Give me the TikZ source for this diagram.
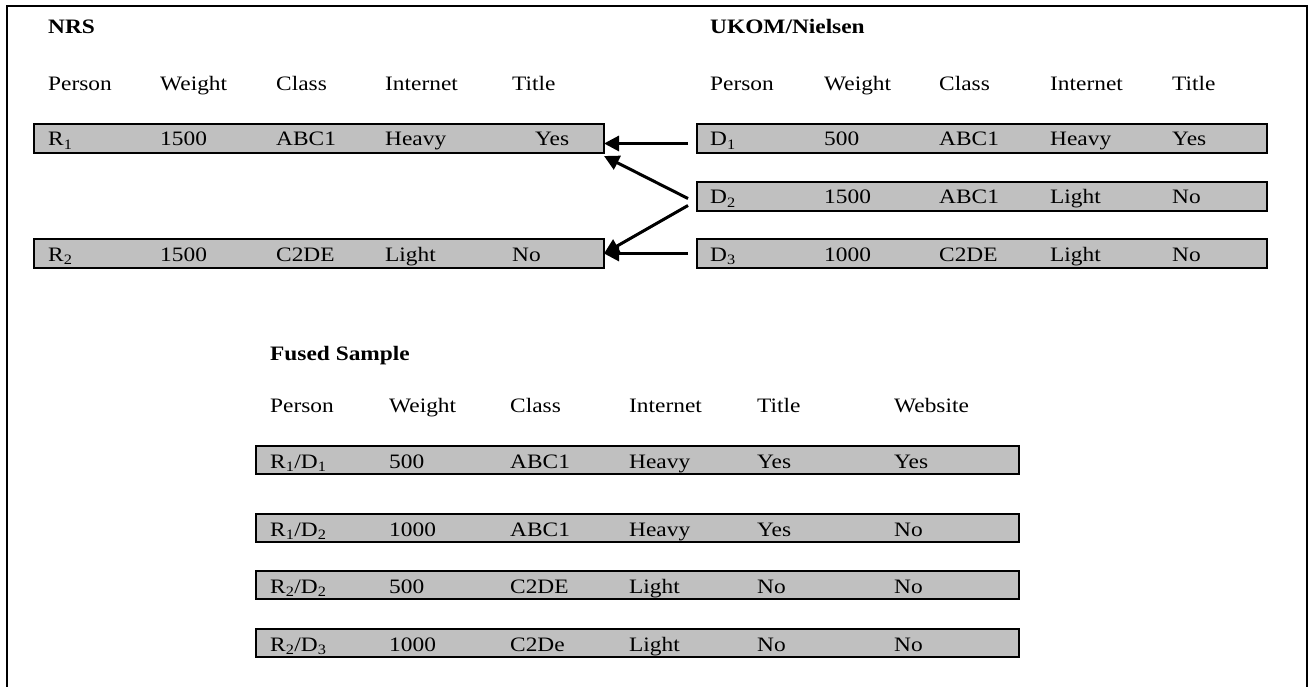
\documentclass[tikz,border=0pt]{standalone}
\usepackage{fontspec}
\setmainfont[FakeStretch=1.14]{Liberation Serif}
\usetikzlibrary{arrows.meta}
\definecolor{cellgray}{HTML}{C0C0C0}
\tikzset{
  x=1pt, y=-1pt,
  frameline/.style={line width=2pt, line cap=rect},
  rowbox/.style={draw=black, line width=2pt, fill=cellgray, anchor=north west,
    inner sep=0pt, minimum height=29pt},
  wide/.style={rowbox, minimum width=570pt},
  fusedbox/.style={rowbox, minimum width=763pt, minimum height=28pt},
  cell/.style={anchor=base west, inner sep=0pt, font=\fontsize{20.5}{25}\selectfont},
  heading/.style={cell, font=\fontsize{20.5}{25}\selectfont\bfseries},
  flow/.style={line width=3pt, -{Triangle[length=15pt,width=15pt]}},
}
\newcommand{\sub}[2]{#1\textsubscript{#2}}
\begin{document}
\begin{tikzpicture}
\useasboundingbox (0,0) rectangle (1309,687);

% open frame round the figure
\draw[frameline] (7,687) -- (7,6.5) -- (1307,6.5) -- (1307,687);

% ---------- NRS sample ----------
\node[heading] (nrs) at (48,34) {NRS};
\foreach \x/\t [count=\i] in {48/Person,160/Weight,276/Class,385/Internet,512/Title}
  \node[cell] (nrshead\i) at (\x,90.5) {\t};

\node[wide] (r1) at (33,123) {};
\foreach \x/\t [count=\i] in {48/{\sub{R}{1}},160/1500,276/ABC1,385/Heavy,535/Yes}
  \node[cell] (r1c\i) at (\x,146) {\t};

\node[wide] (r2) at (33,238) {};
\foreach \x/\t [count=\i] in {48/{\sub{R}{2}},160/1500,276/C2DE,385/Light,512/No}
  \node[cell] (r2c\i) at (\x,261) {\t};

% ---------- UKOM/Nielsen sample ----------
\node[heading] (ukom) at (710,34) {UKOM/Nielsen};
\foreach \x/\t [count=\i] in {710/Person,824/Weight,939/Class,1050/Internet,1172/Title}
  \node[cell] (ukhead\i) at (\x,90.5) {\t};

\node[wide] (d1) at (696,123) {};
\foreach \x/\t [count=\i] in {710/{\sub{D}{1}},824/500,939/ABC1,1050/Heavy,1172/Yes}
  \node[cell] (d1c\i) at (\x,146) {\t};

\node[wide] (d2) at (696,181) {};
\foreach \x/\t [count=\i] in {710/{\sub{D}{2}},824/1500,939/ABC1,1050/Light,1172/No}
  \node[cell] (d2c\i) at (\x,204) {\t};

\node[wide] (d3) at (696,238) {};
\foreach \x/\t [count=\i] in {710/{\sub{D}{3}},824/1000,939/C2DE,1050/Light,1172/No}
  \node[cell] (d3c\i) at (\x,261) {\t};

% ---------- matching arrows ----------
\draw[flow] ([xshift=-8pt,yshift=-5pt]d1.west) -- ([xshift=-1pt,yshift=-5pt]r1.east);
\draw[flow] ([xshift=-8pt,yshift=-2pt]d2.west) -- ([xshift=-1pt,yshift=-2pt]r1.south east);
\draw[flow] ([xshift=-8pt,yshift=-9pt]d2.west) -- ([xshift=-1pt]r2.east);
\draw[flow] ([xshift=-8pt]d3.west) -- ([xshift=-1pt]r2.east);

% ---------- fused sample ----------
\node[heading] (fused) at (270,360) {Fused Sample};
\foreach \x/\t [count=\i] in {270/Person,389/Weight,510/Class,629/Internet,757/Title,894/Website}
  \node[cell] (fhead\i) at (\x,412) {\t};

\node[fusedbox] (f1) at (255,445) {};
\foreach \x/\t [count=\i] in {270/{\sub{R}{1}/\sub{D}{1}},389/500,510/ABC1,629/Heavy,757/Yes,894/Yes}
  \node[cell] (f1c\i) at (\x,468) {\t};

\node[fusedbox] (f2) at (255,513) {};
\foreach \x/\t [count=\i] in {270/{\sub{R}{1}/\sub{D}{2}},389/1000,510/ABC1,629/Heavy,757/Yes,894/No}
  \node[cell] (f2c\i) at (\x,536) {\t};

\node[fusedbox] (f3) at (255,570) {};
\foreach \x/\t [count=\i] in {270/{\sub{R}{2}/\sub{D}{2}},389/500,510/C2DE,629/Light,757/No,894/No}
  \node[cell] (f3c\i) at (\x,593) {\t};

\node[fusedbox] (f4) at (255,628) {};
\foreach \x/\t [count=\i] in {270/{\sub{R}{2}/\sub{D}{3}},389/1000,510/C2De,629/Light,757/No,894/No}
  \node[cell] (f4c\i) at (\x,651) {\t};
\end{tikzpicture}
\end{document}
